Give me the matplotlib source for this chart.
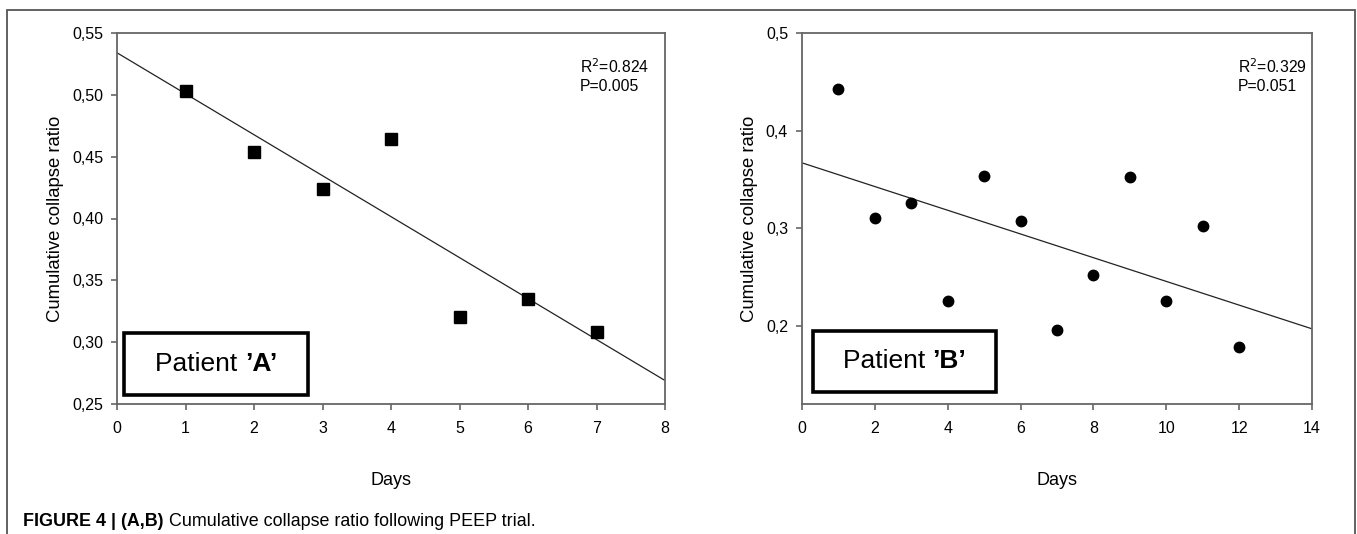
import matplotlib
matplotlib.use("Agg")
import matplotlib.pyplot as plt
from matplotlib.patches import Rectangle
import numpy as np

plt.rcParams['font.family'] = ['Liberation Sans Narrow', 'Liberation Sans', 'DejaVu Sans']

# Panel A data
days_a = [1, 2, 3, 4, 5, 6, 7]
ratio_a = [0.503, 0.454, 0.424, 0.464, 0.320, 0.335, 0.308]
fit_x_a = [0, 8]
fit_y_a = [0.534, 0.269]
yticks_a = [0.25, 0.30, 0.35, 0.40, 0.45, 0.50, 0.55]
ytick_labels_a = ['0,25', '0,30', '0,35', '0,40', '0,45', '0,50', '0,55']
xticks_a = [0, 1, 2, 3, 4, 5, 6, 7, 8]
stats_a = "R$^2$=0.824\nP=0.005"

# Panel B data
days_b = [1, 2, 3, 4, 5, 6, 7, 8, 9, 10, 11, 12]
ratio_b = [0.443, 0.311, 0.326, 0.226, 0.354, 0.307, 0.196, 0.252, 0.352, 0.226, 0.302, 0.178]
fit_x_b = [0, 14]
fit_y_b = [0.367, 0.197]
yticks_b = [0.2, 0.3, 0.4, 0.5]
ytick_labels_b = ['0,2', '0,3', '0,4', '0,5']
xticks_b = [0, 2, 4, 6, 8, 10, 12, 14]
stats_b = "R$^2$=0.329\nP=0.051"

caption_bold = "FIGURE 4 | (A,B)"
caption_text = " Cumulative collapse ratio following PEEP trial."

W, H = 1357, 534
fig = plt.figure(figsize=(W / 100, H / 100), dpi=100)

# outer frame
fig.patches.append(Rectangle((7 / W, -0.05), (1355 - 7) / W, 1.05 - 10 / H,
                             transform=fig.transFigure, fill=False,
                             edgecolor='#555555', linewidth=1.3))

spine_col = '#666666'
reg = ['Liberation Sans', 'DejaVu Sans']

def setup(ax, xlim, ylim, xticks, yticks, ylabels):
    ax.set_xlim(*xlim)
    ax.set_ylim(*ylim)
    ax.set_xticks(xticks)
    ax.set_xticklabels([str(t) for t in xticks])
    ax.set_yticks(yticks)
    ax.set_yticklabels(ylabels)
    for s in ax.spines.values():
        s.set_color(spine_col)
        s.set_linewidth(1.3)
    ax.tick_params(direction='out', length=4, width=1.2, color=spine_col,
                   labelsize=11.5, top=False, right=False)
    ax.tick_params(axis='x', pad=8)
    ax.tick_params(axis='y', pad=6)
    ax.set_xlabel('Days', fontsize=13, labelpad=26, family=reg)
    ax.set_ylabel('Cumulative collapse ratio', fontsize=13.3, labelpad=6, family=reg)

patient_texts = []

def patient_box(ax, x0, y0, x1, y1, letter):
    ax.add_patch(Rectangle((x0, y0), x1 - x0, y1 - y0, transform=ax.transAxes,
                           fill=False, edgecolor='black', linewidth=2.6, zorder=5))
    cx, cy = (x0 + x1) / 2, (y0 + y1) / 2
    t1 = ax.text(cx, cy, "Patient ", transform=ax.transAxes, ha='left', va='center',
                 fontsize=19, family=reg, zorder=6)
    t2 = ax.text(cx, cy, "\u2019" + letter + "\u2019", transform=ax.transAxes, ha='left',
                 va='center', fontsize=19, fontweight='bold', family=reg, zorder=6)
    patient_texts.append((ax, cx, t1, t2))

# Panel A
axA = fig.add_axes([117 / W, 1 - 404 / H, 548 / W, 371 / H])
setup(axA, (0, 8), (0.25, 0.55), xticks_a, yticks_a, ytick_labels_a)
axA.plot(fit_x_a, fit_y_a, color='#222222', linewidth=0.9)
axA.plot(days_a, ratio_a, linestyle='none', marker='s', markersize=8,
         color='black', zorder=4)
axA.text(0.845, 0.935, stats_a, transform=axA.transAxes, ha='left', va='top',
         fontsize=11.3, linespacing=1.25)
patient_box(axA, 0.0135, 0.025, 0.349, 0.191, 'A')

# Panel B
axB = fig.add_axes([802 / W, 1 - 404 / H, 510 / W, 371 / H])
setup(axB, (0, 14), (0.12, 0.5), xticks_b, yticks_b, ytick_labels_b)
axB.plot(fit_x_b, fit_y_b, color='#222222', linewidth=0.9)
axB.plot(days_b, ratio_b, linestyle='none', marker='o', markersize=7.5,
         color='black', zorder=4)
axB.text(0.855, 0.935, stats_b, transform=axB.transAxes, ha='left', va='top',
         fontsize=11.3, linespacing=1.25)
patient_box(axB, 0.021, 0.032, 0.381, 0.198, 'B')

# caption
t = fig.text(23 / W, 1 - 521 / H, caption_bold, ha='left', va='center',
             fontsize=12.9, fontweight='bold')
fig.canvas.draw()
bb = t.get_window_extent()
fig.text(bb.x1 / W, 1 - 521 / H, caption_text, ha='left', va='center',
         fontsize=12.9)

# center the two-part patient labels inside their boxes
r = fig.canvas.get_renderer()
for ax, cx, t1, t2 in patient_texts:
    w1 = t1.get_window_extent(r).width
    w2 = t2.get_window_extent(r).width
    axw = ax.get_window_extent(r).width
    start = cx - (w1 + w2) / 2 / axw
    t1.set_x(start)
    t2.set_x(start + w1 / axw)

fig.savefig('out.png', dpi=100)
